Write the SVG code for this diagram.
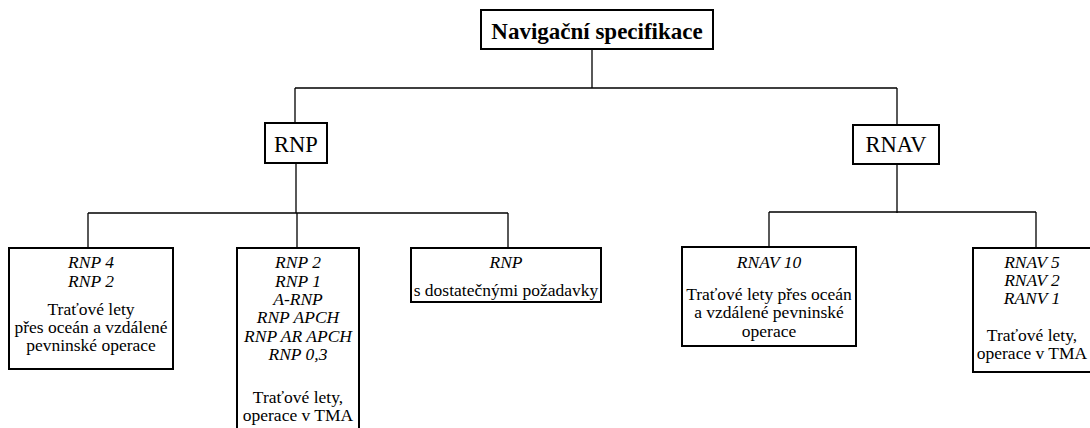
<svg xmlns="http://www.w3.org/2000/svg" width="1090" height="428" viewBox="0 0 1090 428" font-family="'Liberation Serif', 'Times New Roman', 'DejaVu Serif', serif">
<style>
.box{fill:#fff;stroke:#000;stroke-width:2}
.ln{fill:none;stroke:#000;stroke-width:1.3}
text{font-family:'Liberation Serif','Times New Roman','DejaVu Serif',serif;fill:#000;text-anchor:middle}
.t{font-size:17.5px}
.i{font-size:17.5px;font-style:italic}
.h{font-size:22.5px}
.b{font-size:23px;font-weight:bold}
</style>
<g id="connectors">
<path class="ln" d="M592,49V88M295,88H897M295,88V123M897,88V125"/>
<path class="ln" d="M296,163V213M88,213H508M88,213V248M297,213V248M508,213V248"/>
<path class="ln" d="M897,164V213M769,212H1036M769,212V247M1036,212V248"/>
</g>
<g id="root">
<rect class="box" x="481" y="10" width="232" height="39"/>
<text class="b" x="597" y="39">Navigační specifikace</text>
</g>
<g id="rnp">
<rect class="box" x="265" y="123" width="62" height="40"/>
<text class="h" x="296" y="152">RNP</text>
</g>
<g id="rnav">
<rect class="box" x="853" y="125" width="86" height="39"/>
<text class="h" x="896" y="152">RNAV</text>
</g>
<g id="rnp4">
<rect class="box" x="9" y="248" width="164" height="121"/>
<text class="i" x="91" y="268">RNP 4</text>
<text class="i" x="91" y="287">RNP 2</text>
<text class="t" x="91" y="315">Traťové lety</text>
<text class="t" x="91" y="333">přes oceán a vzdálené</text>
<text class="t" x="91" y="351">pevninské operace</text>
</g>
<g id="rnp2">
<rect class="box" x="237" y="248" width="122" height="200"/>
<text class="i" x="298" y="268">RNP 2</text>
<text class="i" x="298" y="286.5">RNP 1</text>
<text class="i" x="298" y="305">A-RNP</text>
<text class="i" x="298" y="323">RNP APCH</text>
<text class="i" x="298" y="341.5">RNP AR APCH</text>
<text class="i" x="298" y="360">RNP 0,3</text>
<text class="t" x="298" y="403">Traťové lety,</text>
<text class="t" x="298" y="421">operace v TMA</text>
</g>
<g id="rnpreq">
<rect class="box" x="411" y="248" width="190" height="54"/>
<text class="i" x="506" y="268">RNP</text>
<text class="t" x="506" y="296">s dostatečnými požadavky</text>
</g>
<g id="rnav10">
<rect class="box" x="682" y="247" width="174" height="99"/>
<text class="i" x="769" y="268">RNAV 10</text>
<text class="t" x="769" y="300">Traťové lety přes oceán</text>
<text class="t" x="769" y="318">a vzdálené pevninské</text>
<text class="t" x="769" y="337">operace</text>
</g>
<g id="rnav5">
<rect class="box" x="973" y="248" width="130" height="124"/>
<text class="i" x="1032" y="268">RNAV 5</text>
<text class="i" x="1032" y="286">RNAV 2</text>
<text class="i" x="1032" y="304">RANV 1</text>
<text class="t" x="1032" y="341">Traťové lety,</text>
<text class="t" x="1032" y="359">operace v TMA</text>
</g>
</svg>
